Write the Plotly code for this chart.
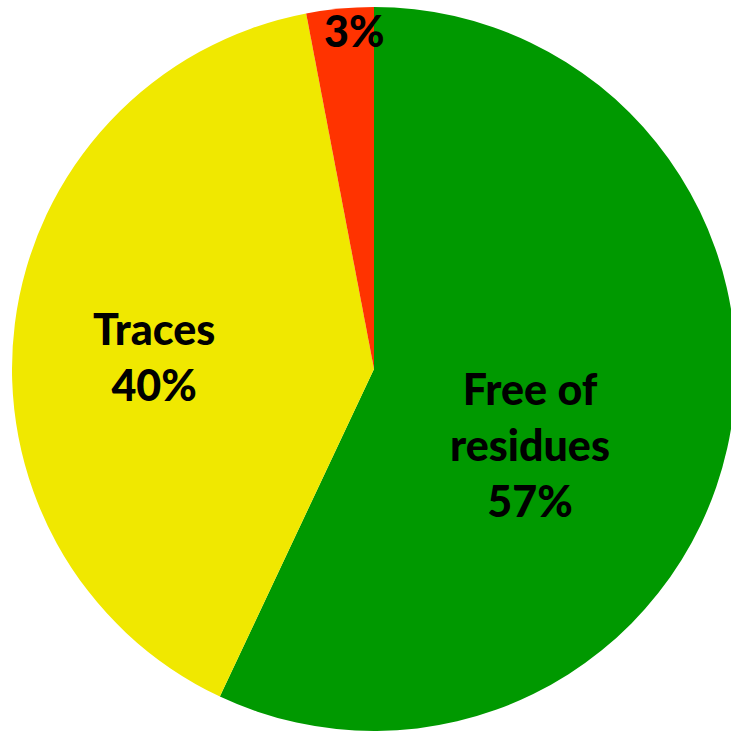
import plotly.graph_objects as go

# Share of samples by residue status (percent)
categories = ["Free of residues", "Traces", "Residues"]
shares = [57, 40, 3]
slice_colors = ["#009900", "#F0E800", "#FF3300"]
# Text shown on each slice (None -> percentage only)
display_names = ["Free of<br>residues", "Traces", None]

W, H = 736, 732

fig = go.Figure(
    go.Pie(
        labels=categories,
        values=shares,
        sort=False,
        direction="clockwise",
        rotation=0,
        marker=dict(colors=slice_colors, line=dict(width=0)),
        textinfo="none",
        hoverinfo="label+percent",
        domain=dict(x=[12 / W, 1], y=[1 / H, 725 / H]),
        showlegend=False,
    )
)

# Label anchor points in pixels (x from left, y from top)
label_px = [(530, 444), (154, 356), (354, 31)]

for name, val, (px, py) in zip(display_names, shares, label_px):
    txt = f"{val}%" if name is None else f"{name}<br>{val}%"
    fig.add_annotation(
        x=px / W, y=1 - py / H, xref="paper", yref="paper",
        text=txt, showarrow=False, xanchor="center", yanchor="middle",
        font=dict(family="Lato", size=43, color="black", weight=900),
    )

fig.update_layout(
    width=W, height=H,
    margin=dict(l=0, r=0, t=0, b=0),
    paper_bgcolor="white", plot_bgcolor="white",
)

fig.write_html(
    "out.html",
    post_script=(
        "document.body.style.margin='0';"
        "document.body.style.overflow='hidden';"
        "document.documentElement.style.overflow='hidden';"
    ),
)
